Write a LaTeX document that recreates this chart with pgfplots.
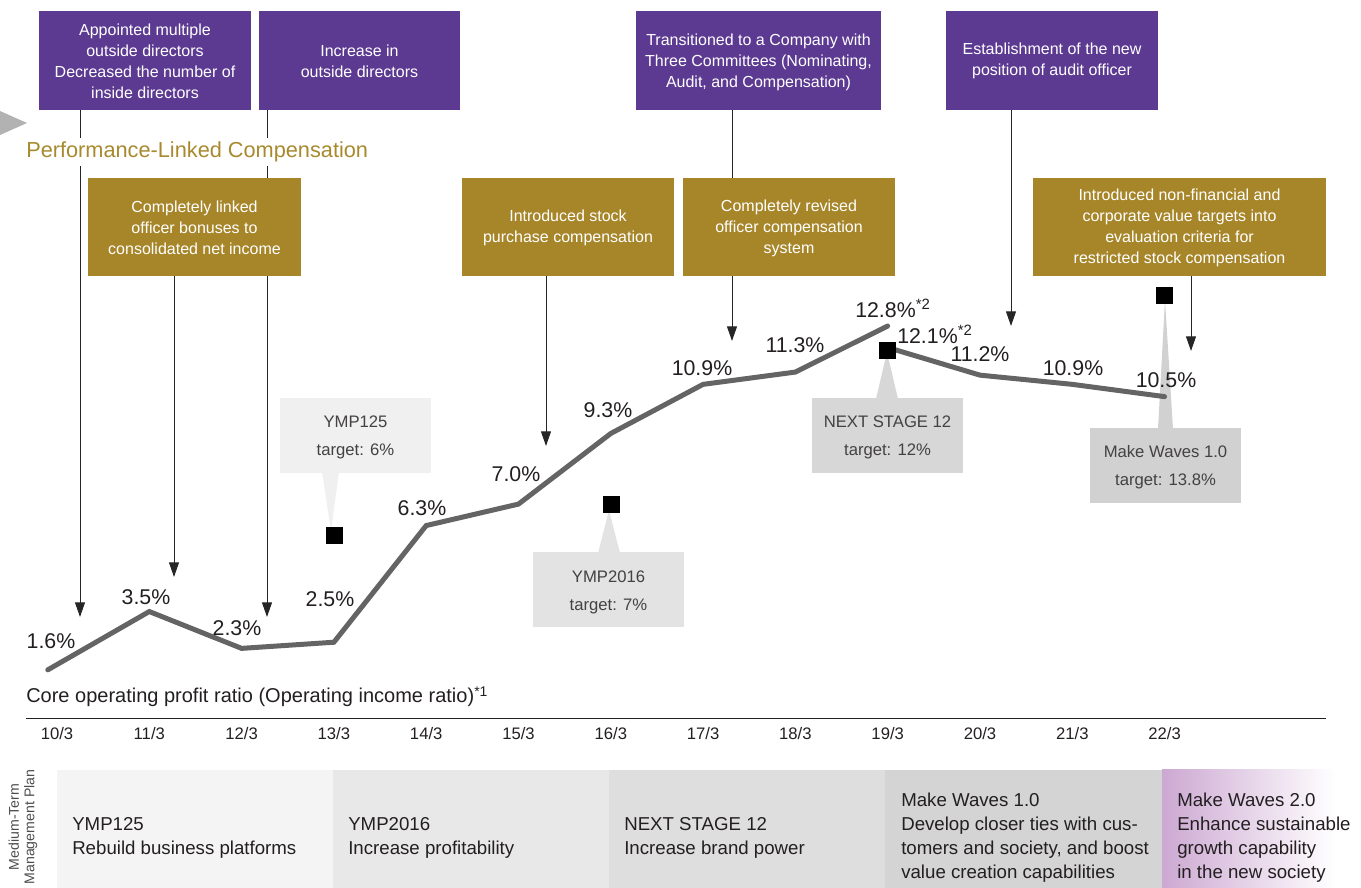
\documentclass[border=0pt]{standalone}
\usepackage{fontspec}
\setmainfont{Liberation Sans}
\usepackage{pgfplots}
\pgfplotsset{compat=1.18}
\usetikzlibrary{arrows.meta}

\definecolor{purp}{RGB}{92,58,146}
\definecolor{gold}{RGB}{167,134,42}
\definecolor{goldtxt}{RGB}{168,138,46}
\definecolor{lineg}{RGB}{100,100,100}
\definecolor{txt}{RGB}{35,31,32}
\definecolor{c1}{RGB}{239,240,239}
\definecolor{c2}{RGB}{226,227,226}
\definecolor{c3}{RGB}{214,215,214}
\definecolor{c4}{RGB}{208,209,208}
\definecolor{b1}{RGB}{244,244,244}
\definecolor{b2}{RGB}{232,232,232}
\definecolor{b3}{RGB}{222,222,222}
\definecolor{b4}{RGB}{211,212,211}
\definecolor{mw2}{RGB}{204,168,210}

\begin{document}
\begin{tikzpicture}[
  boxtxt/.style={text=white, align=center, inner sep=0pt, font=\fontsize{12}{15.75}\selectfont},
  calltxt/.style={text=txt!85, align=center, inner sep=0pt, font=\fontsize{12.5}{21}\selectfont},
  lab/.style={text=txt, inner sep=0pt, font=\fontsize{16}{18}\selectfont},
  tick/.style={text=txt, inner sep=0pt, font=\fontsize{12.5}{14}\selectfont},
  plan/.style={text=txt, inner sep=0pt, anchor=base west, font=\fontsize{14}{18}\selectfont},
  arr/.style={draw=black!85, line width=0.75pt, -{Triangle[width=7.5pt,length=11pt]}}
]
\useasboundingbox (0,0) rectangle (1020.75pt,666pt);

% background, boxes and arrows in pixel units (y downwards)
\begin{scope}[shift={(0pt,666pt)}, x=0.75pt, y=-0.75pt]
  % medium-term plan bands
  \fill[b1] (57,770) rectangle (333,888);
  \fill[b2] (333,770) rectangle (609,888);
  \fill[b3] (609,770) rectangle (885,888);
  \fill[b4] (885,770) rectangle (1162,888);
  \shade[left color=mw2, right color=white] (1162,770) rectangle (1335,888);
  \node[rotate=90, align=center, text=txt!80, inner sep=0pt,
        font=\fontsize{10.6}{11.5}\selectfont] at (23,827) {Medium-Term\\Management Plan};
  \node[plan] at (72,831) {YMP125};
  \node[plan] at (72,855) {Rebuild business platforms};
  \node[plan] at (348,831) {YMP2016};
  \node[plan] at (348,855) {Increase profitability};
  \node[plan] at (624,831) {NEXT STAGE 12};
  \node[plan] at (624,855) {Increase brand power};
  \node[plan] at (901,807) {Make Waves 1.0};
  \node[plan] at (901,831) {Develop closer ties with cus-};
  \node[plan] at (901,855) {tomers and society, and boost};
  \node[plan] at (901,879) {value creation capabilities};
  \node[plan] at (1177,807) {Make Waves 2.0};
  \node[plan] at (1177,831) {Enhance sustainable};
  \node[plan] at (1177,855) {growth capability};
  \node[plan] at (1177,879) {in the new society};

  % baseline rule and year labels
  \draw[txt, line width=0.75pt] (26,719) -- (1326,719);
  \foreach \i in {0,...,12}{
    \pgfmathtruncatemacro\yr{10+\i}
    \node[tick] at ({57+92.3*\i},734) {\yr/3};
  }

  % connectors
  \draw[arr] (80,110) -- (80,617);
  \draw[arr] (267,110) -- (267,617);
  \draw[arr] (174,276) -- (174,577);
  \draw[arr] (546,276) -- (546,446);
  \draw[arr] (732,110) -- (732,341);
  \draw[arr] (1011,110) -- (1011,326);
  \draw[arr] (1191,276) -- (1191,351);

  % governance boxes
  \fill[purp] (39,11) rectangle (251,110);
  \node[boxtxt] at (145,61) {Appointed multiple\\outside directors\\Decreased the number of\\inside directors};
  \fill[purp] (259,11) rectangle (460,110);
  \node[boxtxt] at (359.5,61) {Increase in\\outside directors};
  \fill[purp] (636,11) rectangle (881,110);
  \node[boxtxt] at (758.5,62) {Transitioned to a Company with\\Three Committees (Nominating,\\Audit, and Compensation)};
  \fill[purp] (946,11) rectangle (1158,110);
  \node[boxtxt] at (1052,61) {Establishment of the new\\position of audit officer};

  % compensation boxes
  \fill[gold] (88,178) rectangle (301,276);
  \node[boxtxt] at (194.5,228) {Completely linked\\officer bonuses to\\consolidated net income};
  \fill[gold] (462,178) rectangle (674,276);
  \node[boxtxt] at (568,228) {Introduced stock\\purchase compensation};
  \fill[gold] (683,178) rectangle (895,276);
  \node[boxtxt] at (789,228) {Completely revised\\officer compensation\\system};
  \fill[gold] (1033,178) rectangle (1326,276);
  \node[boxtxt] at (1179.5,228) {Introduced non-financial and\\corporate value targets into\\evaluation criteria for\\restricted stock compensation};

  \fill[black!30] (0,111) -- (27,123) -- (0,135) -- cycle;
  \node[anchor=base west, fill=white, inner xsep=0pt, inner ysep=3pt, text=goldtxt,
        font=\fontsize{16.3}{18}\selectfont] at (26,158) {Performance-Linked Compensation};

  % target callouts
  \fill[c1] (280,398) rectangle (431,473);
  \fill[c1] (322,472) -- (339,472) -- (331,531) -- cycle;
  \node[calltxt] at (355.5,437) {YMP125\\target: 6\%};
  \fill[c2] (533,552) rectangle (684,627);
  \fill[c2] (598,553) -- (620,553) -- (609,510) -- cycle;
  \node[calltxt] at (608.5,592) {YMP2016\\target: 7\%};
  \fill[c3] (812,398) rectangle (963,473);
  \fill[c3] (876,399) -- (898,399) -- (887,352) -- cycle;
  \node[calltxt] at (887.5,437) {NEXT STAGE 12\\target: 12\%};
  \fill[c4] (1090,428) rectangle (1241,503);
  \fill[c4] (1158,429) -- (1173,429) -- (1165,300) -- cycle;
  \node[calltxt] at (1165.5,467) {Make Waves 1.0\\target: 13.8\%};
\end{scope}

\begin{axis}[
  at={(0pt,0pt)}, anchor=south west,
  width=1020.75pt, height=666pt, scale only axis,
  xmin=-0.6176, xmax=14.128,
  ymin=-5.505, ymax=23.42,
  hide axis, clip=false
]
% core operating profit ratio (%), fiscal years 10/3 ... 22/3
\addplot[lineg, line width=3.75pt, line cap=round] coordinates {
  (-0.1,1.6) (1,3.5) (2,2.3) (3,2.5) (4,6.3) (5,7.0) (6,9.3) (7,10.9) (8,11.3) (9,12.8)};
\addplot[lineg, line width=3.75pt, line cap=round] coordinates {
  (9,12.1) (10,11.2) (11,10.9) (12,10.5)};
% medium-term plan targets
\addplot[only marks, mark=square*, mark size=6pt, black] coordinates {
  (3,6) (6,7) (9,12) (12,13.8)};
\end{axis}

\begin{scope}[shift={(0pt,666pt)}, x=0.75pt, y=-0.75pt]
  \node[lab] at (51,641) {1.6\%};
  \node[lab] at (146,597) {3.5\%};
  \node[lab] at (237,628) {2.3\%};
  \node[lab] at (330,599) {2.5\%};
  \node[lab] at (422,508) {6.3\%};
  \node[lab] at (516,474) {7.0\%};
  \node[lab] at (608,410) {9.3\%};
  \node[lab] at (702,368) {10.9\%};
  \node[lab] at (795,345) {11.3\%};
  \node[lab, anchor=base west] at (855,318) {12.8\%\textsuperscript{*2}};
  \node[lab, anchor=base west] at (897,344) {12.1\%\textsuperscript{*2}};
  \node[lab] at (980,354) {11.2\%};
  \node[lab] at (1073,368) {10.9\%};
  \node[lab] at (1166,380) {10.5\%};
  \node[anchor=base west, inner sep=0pt, text=txt, font=\fontsize{15}{18}\selectfont]
    at (26,703) {Core operating profit ratio (Operating income ratio)\textsuperscript{*1}};
\end{scope}
\end{tikzpicture}
\end{document}
